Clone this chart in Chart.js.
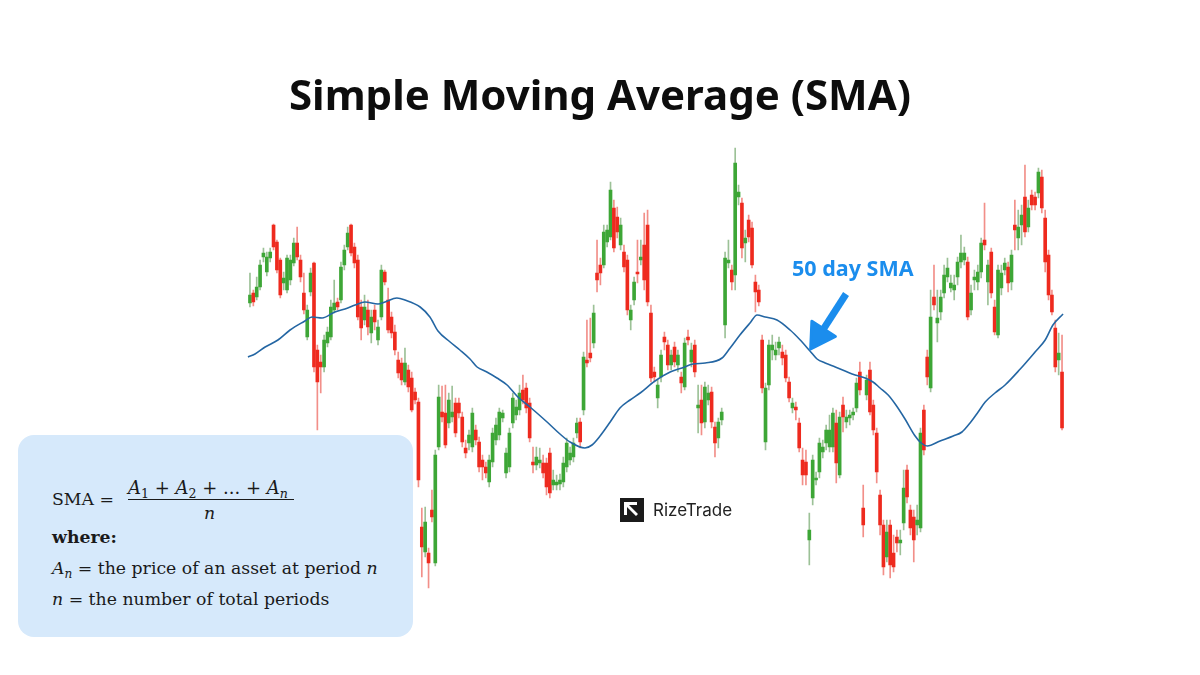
<!DOCTYPE html>
<html>
<head>
<meta charset="utf-8">
<script src="https://cdn.jsdelivr.net/npm/chart.js@4.4.1/dist/chart.umd.min.js"></script>
<style>
    html, body { margin: 0; padding: 0; background: #fff; }
    #wrap { position: relative; width: 1200px; height: 675px; overflow: hidden; }
    #chartBox { position: absolute; left: 0; top: 0; width: 1200px; height: 675px; }
    #title {
        position: absolute; left: 0; top: 66px; width: 1200px; text-align: center;
        font-family: "Noto Sans", sans-serif; font-weight: 700; font-size: 42px;
        line-height: 56px; color: #0d0d0d;
    }
    #formula {
        position: absolute; left: 18px; top: 435px; width: 395px; height: 202px;
        background: #d6e9fb; border-radius: 16px;
        font-family: "DejaVu Serif", serif; font-size: 17.3px; color: #1a1a1a;
    }
    #formula .ln { position: absolute; white-space: nowrap; line-height: 18px; }
    #formula sub { font-size: 0.7em; line-height: 0; vertical-align: -0.3em; font-style: normal; }
    #formula .bar { position: absolute; height: 1px; background: #1a1a1a; }
    #formula .num { font-size: 18px; }
    #logo {
        position: absolute; left: 620px; top: 497px; height: 26px;
        font-family: Inter, sans-serif; font-size: 17px; color: #222;
    }
    #logo svg { position: absolute; left: 0; top: 1px; }
    #logo span { position: absolute; left: 33px; top: 2px; white-space: nowrap; line-height: 22px; }
</style>
</head>
<body>
<div id="wrap">
    <div id="chartBox"><canvas id="smaChart"></canvas></div>
    <div id="title">Simple Moving Average (SMA)</div>
    <div id="formula">
        <div class="ln" style="left:34px; top:55px;">SMA =</div>
        <div class="ln num" style="left:110px; top:44px;"><i>A</i><sub>1</sub> + <i>A</i><sub>2</sub> + ... + <i>A</i><sub><i>n</i></sub></div>
        <div class="bar" style="left:110px; top:64px; width:166px;"></div>
        <div class="ln" style="left:186px; top:69px;"><i>n</i></div>
        <div class="ln" style="left:34px; top:93px;"><b>where:</b></div>
        <div class="ln" style="left:34px; top:124px;"><i>A</i><sub><i>n</i></sub> = the price of an asset at period <i>n</i></div>
        <div class="ln" style="left:34px; top:155px;"><i>n</i> = the number of total periods</div>
    </div>
    <div id="logo">
        <svg width="24" height="24" viewBox="0 0 24 24">
            <rect x="0" y="0" width="24" height="24" fill="#1b1b1b"/>
            <polygon points="4,4 17,4 17,7 9,7 20,18 18,20 7,9 7,17 4,17" fill="#fff"/>
            <polygon points="24,10 24,24 10,24" fill="#1b1b1b"/>
        </svg>
        <span>RizeTrade</span>
    </div>
</div>
<script>
// daily candles, oldest first (one entry per trading day)
var opens = [
    29.7, 30.7, 30.3, 31.3, 34.3, 32.8, 34.2, 37.5, 35.8, 34.0,
    31.7, 31.0, 32.0, 33.7, 35.7, 34.0, 30.7, 26.3, 30.8, 33.7,
    25.0, 23.8, 23.3, 25.7, 26.3, 29.0, 29.8, 30.0, 33.5, 35.3,
    37.5, 35.3, 34.0, 29.3, 28.0, 29.0, 26.7, 29.0, 26.0,
    28.3, 32.8, 30.0, 28.3, 26.8, 24.0, 23.7, 21.8, 23.0, 22.2, 20.8,
    19.8, 7.3, 4.8, 4.7, 9.0, 3.7, 15.3, 18.8, 18.7, 17.7,
    18.3, 19.7, 19.7, 18.3, 15.2, 15.7, 15.3, 17.0, 15.8, 14.0,
    13.3, 11.8, 13.8, 16.0, 16.5, 18.2, 12.7, 13.3, 17.7,
    18.5, 19.0, 21.0, 21.2, 19.7, 13.8, 13.5, 13.7, 13.7, 13.7, 14.7,
    11.5, 11.5, 11.6, 11.8, 13.3, 14.0, 14.3, 16.7, 17.8, 19.0,
    24.0, 24.7, 25.7, 32.7, 33.5, 33.5, 35.8, 36.3, 39.2, 38.3,
    35.5, 34.8, 34.0, 28.0, 30.0, 32.8, 34.0, 35.5, 37.5, 28.7,
    22.8, 20.2, 22.3, 26.3, 25.5, 23.5, 25.3, 23.5, 22.3, 21.3,
    26.3, 23.8, 25.5, 19.2, 20.0, 17.8, 20.0, 20.8, 17.3, 16.2,
    18.0, 27.5, 33.7, 33.0, 32.5, 40.3, 39.7, 35.7, 38.0, 37.2,
    31.8, 31.0, 26.0, 15.8, 21.5, 25.0, 24.5, 25.2, 24.8, 24.5, 21.8,
    19.2, 19.3, 17.7, 14.0, 13.8, 6.0, 10.2, 12.0, 12.8,
    14.8, 15.7, 15.3, 15.3, 17.7, 12.5, 19.5, 17.8, 18.2, 18.5,
    19.2, 22.8, 9.2, 20.5, 23.0, 19.5, 16.7, 10.5, 7.5, 4.3,
    7.5, 4.7, 6.3, 5.7, 7.7, 13.0, 9.0, 8.3, 7.5, 7.2,
    19.0, 24.3, 21.2, 30.3, 27.7, 28.8, 30.7, 32.3, 31.2, 31.0,
    32.3, 33.8, 34.0, 33.8, 29.0, 32.0, 31.8, 32.8, 36.0, 31.8,
    34.8, 29.3, 26.5, 31.2, 33.0, 33.3, 31.8, 37.5, 36.2, 37.5,
    40.3, 37.3, 40.5, 40.3, 40.7, 42.3, 38.2, 34.5, 30.5, 27.2, 24.0, 22.8
];
var highs = [
    32.7, 31.0, 32.3, 34.0, 35.2, 34.8, 35.2, 37.6, 36.0, 34.2,
    32.8, 34.5, 34.5, 36.2, 37.3, 34.5, 32.7, 29.5, 33.2, 33.8,
    25.5, 24.5, 26.5, 27.3, 30.0, 32.0, 30.2, 33.8, 35.5, 37.3,
    37.6, 35.7, 34.5, 30.0, 30.5, 30.0, 29.0, 29.5, 28.0,
    33.5, 33.0, 31.2, 28.8, 27.5, 24.8, 24.2, 25.2, 23.5, 22.8, 21.2,
    20.2, 9.2, 9.3, 5.2, 11.0, 15.0, 21.5, 21.4, 21.5, 20.7,
    21.4, 20.2, 20.2, 18.8, 16.0, 17.0, 19.2, 17.5, 16.3, 14.5,
    13.8, 14.5, 17.2, 18.2, 19.2, 19.0, 15.2, 17.2, 20.7,
    20.0, 21.5, 22.5, 21.7, 20.2, 15.3, 15.3, 15.2, 14.5, 14.2, 15.2,
    13.0, 12.5, 12.6, 14.3, 16.2, 15.3, 16.2, 18.2, 18.2, 24.8,
    28.0, 28.2, 29.5, 36.0, 34.2, 37.5, 37.5, 41.8, 40.0, 39.3,
    38.2, 35.5, 34.5, 29.5, 32.3, 36.0, 36.0, 38.7, 39.0, 29.5,
    23.3, 22.0, 25.0, 26.8, 26.0, 25.0, 25.8, 25.0, 22.8, 26.2,
    27.0, 25.7, 26.0, 21.5, 21.5, 21.8, 21.5, 21.3, 17.8, 18.2,
    19.2, 34.8, 36.0, 33.5, 45.2, 41.5, 40.2, 37.0, 38.5, 37.8,
    32.5, 31.5, 26.5, 21.7, 26.0, 26.5, 25.8, 26.3, 25.5, 25.0, 22.3,
    20.2, 19.8, 18.2, 15.2, 15.0, 8.7, 14.5, 12.8, 16.2,
    16.0, 17.5, 18.5, 19.2, 19.0, 18.8, 20.3, 19.0, 19.0, 19.2,
    22.2, 23.8, 11.5, 22.5, 23.8, 20.0, 17.2, 11.0, 8.0, 8.0,
    8.0, 6.5, 7.0, 7.0, 13.0, 13.5, 9.5, 9.0, 9.5, 17.2,
    19.5, 25.0, 31.0, 33.5, 31.0, 31.0, 33.5, 34.2, 32.5, 32.5,
    34.3, 36.5, 35.3, 34.3, 31.5, 33.0, 33.5, 36.2, 39.7, 34.0,
    35.2, 30.0, 33.5, 33.5, 34.2, 33.8, 35.0, 40.0, 39.0, 39.5,
    43.5, 40.0, 41.0, 40.8, 43.2, 43.0, 39.0, 35.0, 31.0, 28.0, 26.7, 26.5
];
var lows = [
    29.3, 29.4, 30.0, 31.0, 33.8, 32.4, 33.8, 35.0, 32.7, 30.2,
    31.0, 30.7, 31.5, 33.4, 34.0, 31.8, 28.6, 26.0, 30.4, 22.8,
    17.0, 20.7, 22.8, 25.3, 26.0, 28.7, 29.0, 29.7, 33.0, 35.0,
    34.4, 33.2, 28.0, 26.0, 27.5, 26.5, 25.7, 27.0, 25.5,
    28.0, 31.5, 26.7, 26.2, 24.5, 22.2, 21.5, 21.5, 20.8, 18.8, 19.6,
    11.3, 2.3, 4.3, 1.2, 7.8, 3.4, 15.0, 17.8, 15.2, 17.2,
    17.8, 16.3, 18.2, 15.3, 14.2, 15.0, 14.8, 15.5, 12.8, 12.0,
    12.2, 11.3, 13.3, 15.5, 16.0, 17.8, 12.2, 12.8, 17.2,
    18.0, 18.5, 19.6, 18.7, 15.8, 12.7, 13.0, 13.2, 12.2, 10.5, 10.2,
    11.0, 11.0, 11.0, 11.3, 12.8, 13.5, 13.8, 16.2, 15.2, 18.5,
    23.3, 23.8, 25.2, 30.8, 31.5, 33.2, 35.3, 36.0, 34.8, 36.2,
    35.0, 32.8, 28.5, 27.0, 29.5, 31.7, 33.5, 31.0, 29.4, 21.8,
    21.8, 19.2, 21.8, 25.0, 23.0, 23.0, 23.3, 22.8, 20.7, 21.0,
    25.5, 23.3, 22.3, 16.7, 16.5, 17.2, 19.5, 17.2, 14.3, 15.2,
    17.5, 26.2, 33.2, 31.0, 31.0, 39.5, 34.2, 33.8, 35.8, 33.2,
    28.8, 29.4, 20.7, 15.0, 21.0, 24.0, 24.0, 24.5, 23.5, 21.8, 19.8,
    18.7, 18.0, 14.8, 11.5, 11.5, 3.5, 9.5, 11.5, 12.2,
    14.2, 15.0, 14.8, 14.8, 11.7, 12.2, 16.8, 17.2, 17.5, 18.0,
    18.8, 20.5, 6.3, 20.0, 18.5, 16.5, 11.7, 6.5, 2.5, 3.8,
    2.2, 2.8, 4.8, 4.5, 7.0, 9.7, 6.5, 3.8, 6.5, 6.8,
    14.5, 21.5, 20.8, 29.0, 25.8, 28.0, 30.2, 31.8, 30.8, 30.0,
    31.5, 33.2, 33.5, 28.0, 28.5, 31.0, 31.0, 32.2, 35.0, 29.5,
    30.2, 26.5, 26.2, 30.5, 32.5, 30.8, 31.0, 35.0, 35.0, 35.5,
    36.3, 36.8, 39.0, 39.0, 40.2, 38.7, 32.8, 30.0, 28.5, 22.8, 22.5, 17.0
];
var closes = [
    30.5, 29.8, 31.3, 33.5, 34.7, 34.3, 34.8, 35.3, 33.0, 30.5,
    32.2, 34.2, 34.0, 35.7, 34.3, 32.3, 29.0, 29.0, 32.7, 23.3,
    21.8, 23.3, 26.0, 26.8, 29.3, 29.7, 29.3, 33.3, 35.0, 36.7,
    34.7, 33.7, 28.3, 27.2, 29.3, 27.3, 28.3, 27.8, 27.3,
    33.0, 31.8, 27.0, 26.7, 25.0, 22.7, 22.0, 23.7, 21.3, 19.0, 20.0,
    12.0, 5.3, 7.8, 3.7, 8.3, 14.5, 20.3, 18.3, 15.5, 20.0,
    18.8, 16.7, 18.7, 15.8, 14.7, 16.5, 18.7, 16.0, 13.3, 13.3,
    12.7, 14.0, 16.7, 17.5, 18.8, 18.7, 14.7, 16.7, 20.2,
    19.3, 20.7, 20.0, 19.2, 16.2, 13.5, 14.3, 14.0, 12.7, 11.3, 10.7,
    12.0, 11.8, 12.0, 13.7, 15.7, 14.7, 15.7, 17.7, 15.8, 24.3,
    23.7, 24.2, 28.7, 32.0, 32.7, 36.8, 37.0, 41.0, 35.2, 36.8,
    37.5, 33.3, 29.0, 29.0, 31.8, 32.6, 34.3, 32.0, 29.8, 22.2,
    22.3, 21.5, 24.5, 25.8, 23.5, 24.5, 23.8, 24.5, 21.7, 25.7,
    26.0, 25.0, 22.8, 19.5, 17.7, 21.3, 20.7, 17.8, 15.7, 17.8,
    18.8, 34.2, 34.0, 31.8, 43.7, 40.8, 35.2, 36.2, 36.3, 33.5,
    30.8, 29.8, 21.2, 21.2, 25.5, 25.5, 25.0, 25.8, 24.2, 22.2, 20.2,
    19.7, 19.0, 15.2, 12.5, 12.5, 7.0, 14.0, 12.2, 15.7,
    15.3, 17.0, 17.0, 18.7, 13.7, 18.3, 18.3, 18.3, 18.5, 18.8,
    21.7, 21.0, 7.5, 22.0, 18.8, 17.0, 12.8, 7.5, 3.3, 6.8,
    3.5, 3.3, 5.7, 6.0, 11.2, 10.3, 7.2, 6.0, 8.0, 16.7,
    15.0, 22.3, 28.3, 29.5, 28.2, 30.3, 32.5, 33.2, 31.7, 31.5,
    33.8, 34.7, 34.7, 28.3, 30.7, 32.3, 32.8, 35.7, 35.5, 33.5,
    30.7, 26.8, 33.0, 32.7, 33.7, 31.7, 34.5, 37.0, 37.3, 38.5,
    36.8, 39.2, 39.5, 39.5, 42.8, 39.2, 33.8, 30.5, 28.8, 23.3, 24.7, 17.2
];

// 50 day SMA (day, value)
var smaDays = [
    -0.6, 1.5, 4.5, 8.3, 11.9, 16.3, 18.4, 21.4, 25.2, 28.2,
    31.2, 34.1, 38.0, 40.1, 43.6, 46.0, 50.5, 53.4, 55.8, 59.4,
    62.3, 65.3, 67.4, 70.3, 73.3, 76.3, 79.5, 83.1, 88.5, 92.0,
    95.0, 99.4, 101.5, 103.9, 106.9, 109.8, 112.8, 115.8, 120.2, 124.7,
    128.2, 131.5, 135.1, 140.1, 142.5, 145.4, 148.4, 150.5, 152.9, 156.4,
    160.3, 163.3, 166.2, 168.3, 170.7, 173.7, 176.6, 179.6, 182.6, 184.9,
    187.0, 189.4, 191.7, 194.4, 197.4, 199.2, 201.0, 204.8, 208.7, 211.3,
    213.7, 216.1, 218.2, 221.1, 224.1, 228.6, 233.0, 236.0, 238.3, 241.3
];
var smaValues = [
    24.3, 24.6, 25.3, 26.0, 27.0, 27.9, 28.3, 28.2, 28.8, 29.1,
    29.5, 29.8, 29.6, 29.8, 30.2, 30.0, 29.3, 28.3, 26.9, 25.8,
    25.0, 24.1, 23.3, 22.8, 22.2, 21.5, 20.3, 19.3, 17.7, 16.6,
    15.8, 15.2, 15.5, 16.4, 17.8, 19.2, 20.0, 20.7, 21.9, 22.8,
    23.2, 23.6, 23.7, 24.2, 25.2, 26.5, 27.7, 28.5, 28.3, 28.0,
    27.0, 26.0, 24.9, 24.1, 23.7, 23.3, 22.9, 22.5, 22.2, 21.8,
    21.2, 20.5, 19.5, 18.1, 16.4, 15.7, 15.4, 15.9, 16.4, 16.8,
    17.7, 18.8, 19.8, 20.7, 21.5, 23.1, 24.8, 26.0, 27.5, 28.6
];

var smaLabel = '50 day SMA';

var upColor = '#3da636';
var downColor = '#ee2a1e';
var upWick = '#9cc197';
var downWick = '#f28f89';

var candleBodies = opens.map(function(o, i) {
    return { x: i, y: [o, closes[i]] };
});
var candleWicks = lows.map(function(l, i) {
    return { x: i, y: [l, highs[i]] };
});
var bodyColors = opens.map(function(o, i) {
    return closes[i] >= o ? upColor : downColor;
});
var wickColors = opens.map(function(o, i) {
    return closes[i] >= o ? upWick : downWick;
});
var smaPoints = smaDays.map(function(d, i) {
    return { x: d, y: smaValues[i] };
});

// blue label and arrow pointing at the SMA line
var callout = {
    text: smaLabel,
    textAt: [178.9, 33.0],
    tail: [176.9, 30.6],
    tip: [166.4, 25.1],
    color: '#1b8ded'
};

var calloutPlugin = {
    id: 'callout',
    afterDatasetsDraw: function(chart) {
        var ctx = chart.ctx;
        var xs = chart.scales.x;
        var ys = chart.scales.y;
        var tx = xs.getPixelForValue(callout.tail[0]), ty = ys.getPixelForValue(callout.tail[1]);
        var px = xs.getPixelForValue(callout.tip[0]), py = ys.getPixelForValue(callout.tip[1]);
        var ang = Math.atan2(py - ty, px - tx);
        var headLen = 24, headHalf = 14;
        var bx = px - Math.cos(ang) * headLen, by = py - Math.sin(ang) * headLen;

        ctx.save();
        ctx.strokeStyle = callout.color;
        ctx.fillStyle = callout.color;
        ctx.lineWidth = 7;
        ctx.lineCap = 'butt';
        ctx.beginPath();
        ctx.moveTo(tx, ty);
        ctx.lineTo(bx + Math.cos(ang) * 4, by + Math.sin(ang) * 4);
        ctx.stroke();

        ctx.lineJoin = 'round';
        ctx.lineWidth = 3;
        ctx.beginPath();
        ctx.moveTo(px, py);
        ctx.lineTo(bx + Math.cos(ang + Math.PI / 2) * headHalf, by + Math.sin(ang + Math.PI / 2) * headHalf);
        ctx.lineTo(bx - Math.cos(ang + Math.PI / 2) * headHalf, by - Math.sin(ang + Math.PI / 2) * headHalf);
        ctx.closePath();
        ctx.fill();
        ctx.stroke();

        ctx.font = 'bold 21.5px "Noto Sans", sans-serif';
        ctx.textAlign = 'center';
        ctx.textBaseline = 'middle';
        ctx.fillText(callout.text, xs.getPixelForValue(callout.textAt[0]), ys.getPixelForValue(callout.textAt[1]));
        ctx.restore();
    }
};

new Chart(document.getElementById('smaChart').getContext('2d'), {
    type: 'bar',
    data: {
        datasets: [{
            type: 'line',
            label: smaLabel,
            data: smaPoints,
            borderColor: '#2466a3',
            borderWidth: 1.6,
            pointRadius: 0,
            cubicInterpolationMode: 'monotone',
            order: 0
        }, {
            label: 'body',
            data: candleBodies,
            backgroundColor: bodyColors,
            barThickness: 3,
            grouped: false,
            order: 1
        }, {
            label: 'wick',
            data: candleWicks,
            backgroundColor: wickColors,
            barThickness: 1,
            grouped: false,
            order: 2
        }]
    },
    options: {
        responsive: true,
        maintainAspectRatio: false,
        animation: false,
        layout: {
            padding: { left: 246.6, right: 134.6, top: 140, bottom: 75 }
        },
        scales: {
            x: { type: 'linear', min: -1, max: 242, offset: false, display: false },
            y: { type: 'linear', min: 0, max: 46, display: false }
        },
        plugins: {
            legend: { display: false },
            tooltip: { enabled: false },
            title: { display: false }
        }
    },
    plugins: [calloutPlugin]
});
</script>
</body>
</html>
